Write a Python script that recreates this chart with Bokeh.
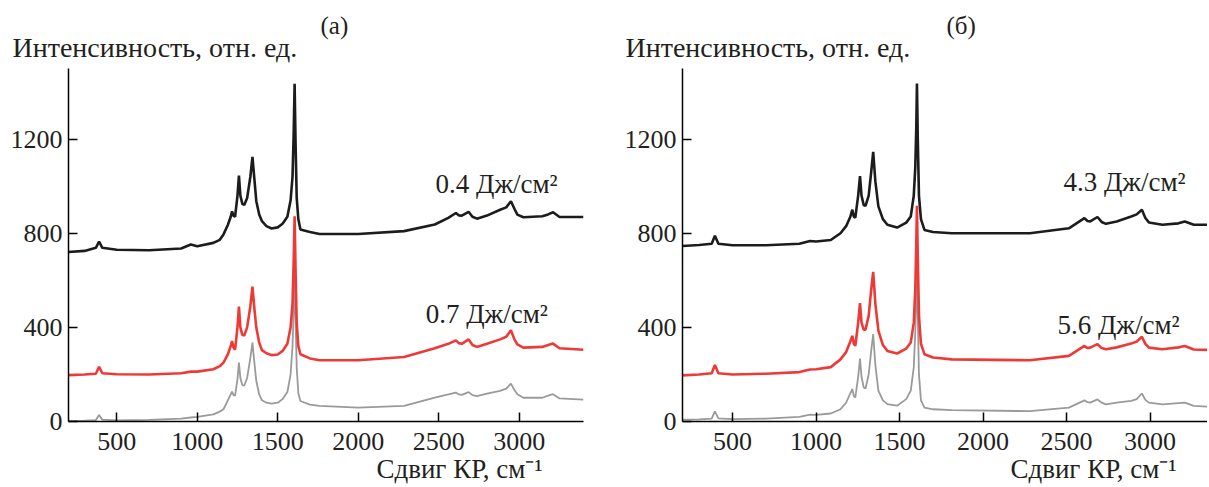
from bokeh.plotting import figure
from bokeh.layouts import row
from bokeh.models import Range1d, FixedTicker, Label, Title
from bokeh.embed import file_html
from bokeh.resources import INLINE

# ---------------- data ----------------
# panel (а): Raman shift, cm^-1, and intensities of the three spectra
x_a = [200, 300, 370, 390, 410, 500, 700, 900, 960, 1000,
       1100, 1140, 1163, 1190, 1208, 1216, 1225, 1235, 1250, 1259,
       1268, 1280, 1292, 1310, 1330, 1343, 1355, 1367, 1385, 1402,
       1430, 1462, 1500, 1530, 1560, 1580, 1592, 1599, 1605, 1611,
       1618, 1628, 1641, 1700, 1760, 2000, 2285, 2476, 2560, 2607,
       2625, 2644, 2686, 2710, 2738, 2800, 2882, 2920, 2949, 2970,
       2989, 3026, 3144, 3180, 3211, 3251, 3400]
black_a = [720, 725, 738, 765, 738, 730, 728, 735, 752, 745,
           759, 772, 795, 835, 870, 893, 875, 870, 960, 1045,
           960, 925, 920, 950, 1040, 1124, 1030, 936, 880, 851,
           830, 820, 825, 840, 870, 940, 1040, 1220, 1435, 1180,
           950, 860, 816, 805, 797, 797, 809, 837, 865, 886,
           876, 875, 891, 870, 862, 875, 900, 910, 936, 905,
           879, 868, 872, 880, 889, 869, 869]
red_a = [197, 200, 203, 232, 205, 201, 200, 205, 212, 212,
         222, 235, 250, 285, 320, 342, 315, 305, 400, 488,
         400, 368, 365, 400, 490, 573, 480, 399, 335, 303,
         290, 282, 285, 300, 330, 400, 500, 680, 872, 640,
         420, 320, 286, 268, 260, 260, 274, 311, 330, 345,
         333, 330, 349, 325, 317, 330, 349, 360, 388, 350,
         328, 314, 317, 325, 331, 311, 305]
gray_a = [3, 4, 6, 28, 8, 5, 7, 12, 17, 20,
          30, 42, 52, 90, 115, 127, 112, 110, 180, 250,
          185, 155, 152, 185, 270, 335, 250, 172, 115, 90,
          80, 76, 80, 95, 125, 200, 320, 470, 597, 430,
          230, 120, 87, 72, 66, 59, 66, 101, 115, 123,
          115, 113, 125, 112, 108, 118, 130, 140, 161, 135,
          116, 101, 101, 110, 116, 98, 93]

# panel (б)
x_b = [200, 300, 375, 394, 415, 500, 700, 900, 964, 1000,
       1088, 1146, 1180, 1205, 1217, 1226, 1235, 1252, 1263, 1272,
       1285, 1296, 1315, 1330, 1342, 1355, 1373, 1400, 1427, 1485,
       1540, 1567, 1585, 1594, 1600, 1604, 1609, 1616, 1628, 1649,
       1700, 1813, 2280, 2514, 2607, 2625, 2642, 2685, 2710, 2736,
       2800, 2887, 2920, 2951, 2972, 2993, 3074, 3170, 3208, 3262,
       3350]
black_b = [746, 750, 755, 789, 755, 749, 749, 755, 767, 765,
           771, 800, 830, 870, 900, 870, 866, 960, 1043, 960,
           920, 916, 960, 1060, 1146, 1020, 914, 860, 836, 824,
           845, 871, 960, 1080, 1250, 1436, 1200, 960, 860, 814,
           805, 800, 800, 821, 864, 852, 850, 869, 848, 840,
           850, 871, 880, 900, 865, 846, 836, 842, 850, 836,
           836]
red_b = [196, 200, 205, 240, 205, 200, 203, 210, 221, 222,
         231, 264, 295, 340, 364, 330, 322, 420, 503, 420,
         390, 390, 450, 560, 636, 500, 386, 325, 300, 289,
         310, 336, 420, 560, 760, 917, 700, 450, 330, 286,
         272, 264, 260, 279, 321, 312, 314, 329, 312, 307,
         315, 331, 340, 360, 330, 314, 307, 315, 321, 306,
         304]
gray_b = [8, 9, 12, 43, 13, 10, 12, 20, 29, 28,
          34, 52, 80, 120, 138, 108, 102, 190, 267, 190,
          145, 140, 200, 300, 371, 240, 131, 90, 74, 67,
          95, 131, 230, 380, 520, 636, 450, 200, 90, 59,
          52, 48, 44, 59, 90, 82, 80, 94, 80, 73,
          80, 88, 95, 119, 92, 80, 73, 78, 80, 66,
          63]

x_ticks = [500, 1000, 1500, 2000, 2500, 3000]
y_ticks = [0, 400, 800, 1200]
labels_a = ["0.4 Дж/см²", "0.7 Дж/см²"]
labels_b = ["4.3 Дж/см²", "5.6 Дж/см²"]
panel_titles = ["(а)", "(б)"]
y_title = "Интенсивность, отн. ед."
x_title = "Сдвиг КР, см⁻¹"

for xs, *ys in ((x_a, black_a, red_a, gray_a), (x_b, black_b, red_b, gray_b)):
    for y in ys:
        assert len(y) == len(xs), (len(y), len(xs))

FONT = "Liberation Serif"
TXT = "#231f20"
C_BLACK = "#1c1c1c"
C_RED = "#ee3a36"
C_GRAY = "#9a9a9a"
H = 486


def make_panel(xs, blk, red, gry, xend, width, bl, br,
               labels, label_pos, title, title_off, ylab_off, xlab_off):
    p = figure(width=width, height=H, output_backend="svg", toolbar_location=None,
               x_range=Range1d(200, xend), y_range=Range1d(0, 1500),
               min_border_left=bl, min_border_right=br, min_border_top=68,
               min_border_bottom=H - 421, background_fill_color="white",
               border_fill_color="white", outline_line_color=None)
    p.grid.visible = False
    p.xaxis.ticker = FixedTicker(ticks=x_ticks)
    p.yaxis.ticker = FixedTicker(ticks=y_ticks)
    for ax in (p.xaxis, p.yaxis):
        ax.axis_line_color = "black"
        ax.axis_line_width = 1.5
        ax.major_tick_line_color = "black"
        ax.major_tick_line_width = 1.5
        ax.major_tick_in = 9
        ax.major_tick_out = 0
        ax.minor_tick_in = 0
        ax.minor_tick_out = 0
        ax.major_label_text_font = FONT
        ax.major_label_text_font_size = "26px"
        ax.major_label_text_color = TXT
    p.xaxis.major_label_standoff = 11
    p.yaxis.major_label_standoff = 6

    p.line(xs, gry, line_color=C_GRAY, line_width=1.8)
    p.line(xs, red, line_color=C_RED, line_width=2.6)
    p.line(xs, blk, line_color=C_BLACK, line_width=2.6)

    for txt, (lx, ly) in zip(labels, label_pos):
        p.add_layout(Label(x=lx, y=ly, text=txt, text_align="center",
                           text_baseline="alphabetic", text_font=FONT,
                           text_font_size="27px", text_color=TXT))
    # y-axis title (closest to the frame), then the panel letter above it
    p.add_layout(Title(text=y_title, align="left", offset=ylab_off, vertical_align="bottom",
                       standoff=12, text_font=FONT, text_font_size="28px",
                       text_font_style="normal", text_color=TXT), "above")
    p.add_layout(Title(text=title, align="left", offset=title_off, vertical_align="bottom",
                       standoff=-30, text_font=FONT, text_font_size="25px",
                       text_font_style="normal", text_color=TXT), "above")
    p.add_layout(Title(text=x_title, align="right", offset=xlab_off, vertical_align="bottom",
                       standoff=-2, text_font=FONT, text_font_size="27px",
                       text_font_style="normal", text_color=TXT), "below")
    return p


pa = make_panel(x_a, black_a, red_a, gray_a, 3400, 593, 68, 10,
                labels_a, [(2860, 1009), (2799, 458)], panel_titles[0], 252, -56, 41)
pb = make_panel(x_b, black_b, red_b, gray_b, 3344, 614, 89, 0,
                labels_b, [(2847, 1017), (2811, 410)], panel_titles[1], 264, -57, 31)

layout = row(pa, pb)
open("out.html", "w").write(file_html(layout, INLINE))
